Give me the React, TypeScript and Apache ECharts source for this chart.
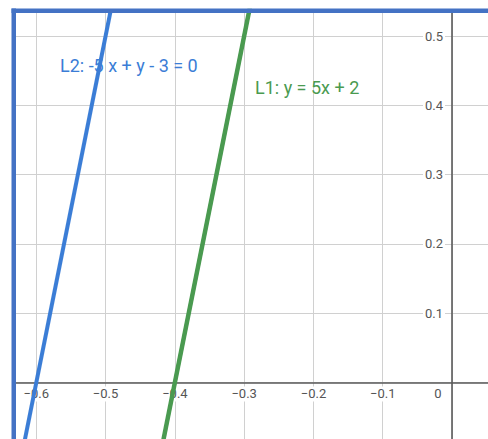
import React, { useEffect, useRef } from "react";
import * as echarts from "echarts";

// Two parallel lines, each stored as a pair of points on it
const l1Points: [number, number][] = [
  [-0.42, -0.1],
  [-0.28, 0.6],
];
const l2Points: [number, number][] = [
  [-0.62, -0.1],
  [-0.48, 0.6],
];

const l1Label = "L1: y = 5x + 2";
const l2Label = "L2: -5 x + y - 3 = 0";

// Visible window of the plane
const xRange = [-0.6322, 0.0606];
const yRange = [-0.0902, 0.5361];

// Tick values and their printed labels
const xTicks = [-0.6, -0.5, -0.4, -0.3, -0.2, -0.1, 0];
const xTickLabels = ["−0.6", "−0.5", "−0.4", "−0.3", "−0.2", "−0.1", "0"];
const yTicks = [0.1, 0.2, 0.3, 0.4, 0.5];
const yTickLabels = ["0.1", "0.2", "0.3", "0.4", "0.5"];

const BLUE = "#3b7dd6";
const GREEN = "#4a9a50";
const FRAME = "#4472c4";

function lookup(ticks: number[], v: number): number {
  for (let i = 0; i < ticks.length; i++) {
    if (Math.abs(ticks[i] - v) < 1e-6) return i;
  }
  return -1;
}

export default function App() {
  const ref = useRef<HTMLDivElement>(null);

  useEffect(() => {
    if (!ref.current) return;
    const chart = echarts.init(ref.current, undefined, { renderer: "svg" });
    const font = "Roboto, 'Liberation Sans', Arial, sans-serif";

    chart.setOption({
      animation: false,
      backgroundColor: "#ffffff",
      grid: {
        left: 14,
        top: 11,
        right: -6,
        bottom: -6,
        show: false,
        containLabel: false,
        outerBoundsMode: "none",
      },
      xAxis: {
        type: "value",
        position: "bottom",
        min: xRange[0],
        max: xRange[1],
        minInterval: 0.1,
        maxInterval: 0.1,
        axisLine: { onZero: false, lineStyle: { color: "#5a5a5a", width: 1.6 } },
        axisTick: { show: false },
        splitLine: { show: true, lineStyle: { color: "#d0d0d0", width: 1 } },
        axisLabel: {
          margin: 4,
          showMinLabel: false,
          showMaxLabel: false,
          hideOverlap: false,
          formatter: (v: number) => {
            const i = lookup(xTicks, v);
            if (i < 0) return "";
            if (Math.abs(v) < 1e-9) return "{o|" + xTickLabels[i] + "}";
            return "{n|" + xTickLabels[i] + "}";
          },
          rich: {
            n: {
              fontFamily: font,
              fontSize: 13,
              color: "#555555",
              backgroundColor: "#ffffff",
              padding: [1, 1, 1, 1],
            },
            o: {
              fontFamily: font,
              fontSize: 13,
              color: "#555555",
              padding: [1, 28, 1, 0],
            },
          },
        },
      },
      yAxis: {
        type: "value",
        position: "left",
        min: yRange[0],
        max: yRange[1],
        minInterval: 0.1,
        maxInterval: 0.1,
        axisLine: { onZero: false, lineStyle: { color: "#5a5a5a", width: 1.6 } },
        axisTick: { show: false },
        splitLine: { show: true, lineStyle: { color: "#d0d0d0", width: 1 } },
        axisLabel: {
          margin: 7,
          showMinLabel: false,
          showMaxLabel: false,
          hideOverlap: false,
          formatter: (v: number) => {
            const i = lookup(yTicks, v);
            if (i < 0) return "";
            return "{n|" + yTickLabels[i] + "}";
          },
          rich: {
            n: {
              fontFamily: font,
              fontSize: 13,
              color: "#555555",
              backgroundColor: "#ffffff",
              padding: [1, 2, 1, 2],
            },
          },
        },
      },
      series: [
        {
          type: "line",
          name: "L2",
          data: l2Points,
          showSymbol: false,
          clip: true,
          lineStyle: { color: BLUE, width: 4 },
          z: 3,
        },
        {
          type: "line",
          name: "L1",
          data: l1Points,
          showSymbol: false,
          clip: true,
          lineStyle: { color: GREEN, width: 4.5 },
          z: 3,
        },
      ],
      graphic: [
        {
          type: "text",
          left: 60,
          top: 56,
          z: 10,
          style: {
            text: l2Label,
            fill: BLUE,
            font: "18px " + font,
          },
        },
        {
          type: "text",
          left: 255,
          top: 78,
          z: 10,
          style: {
            text: l1Label,
            fill: GREEN,
            font: "18px " + font,
          },
        },
        // frame along the left and top edges
        {
          type: "rect",
          z: 20,
          shape: { x: 11.5, y: 8.5, width: 4.5, height: 440 },
          style: { fill: FRAME },
        },
        {
          type: "rect",
          z: 20,
          shape: { x: 11.5, y: 8.5, width: 480, height: 4.5 },
          style: { fill: FRAME },
        },
      ],
    });

    // Move both axes (line and labels) onto the origin
    const origin = chart.convertToPixel({ gridIndex: 0 }, [0, 0]) as number[];
    const corner = chart.convertToPixel({ gridIndex: 0 }, [xRange[0], yRange[0]]) as number[];
    chart.setOption({
      xAxis: { offset: origin[1] - corner[1] },
      yAxis: { offset: corner[0] - origin[0] },
    });

    return () => chart.dispose();
  }, []);

  return (
    <div
      ref={ref}
      style={{
        position: "fixed",
        left: 0,
        top: 0,
        width: 488,
        height: 439,
        background: "#fff",
      }}
    />
  );
}
